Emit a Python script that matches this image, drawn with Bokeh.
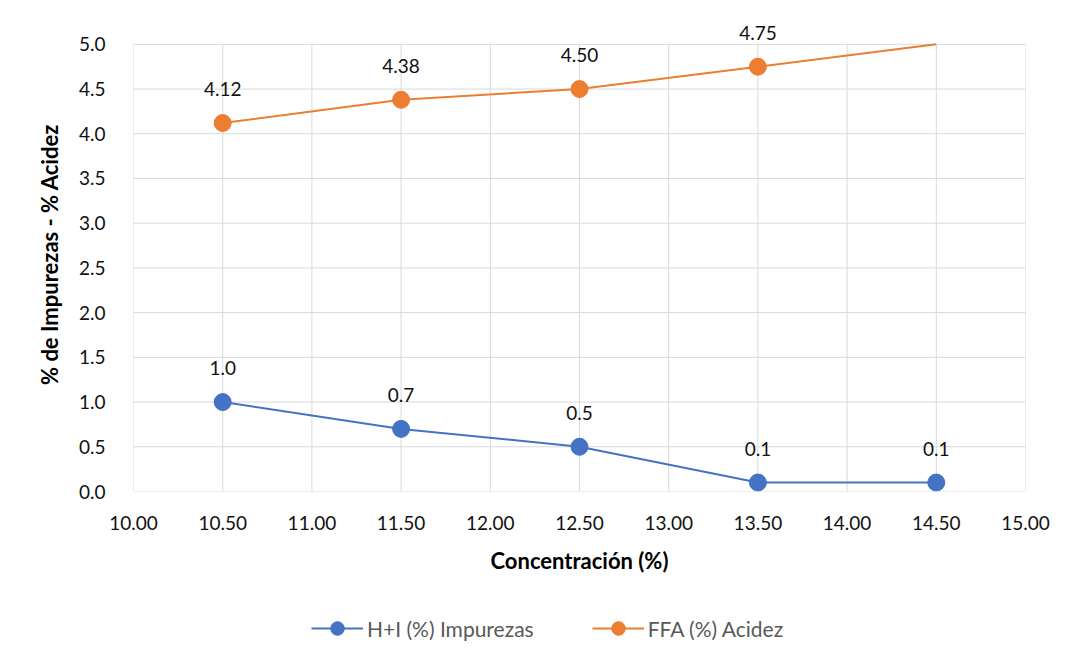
from bokeh.plotting import figure
from bokeh.layouts import column
from bokeh.models import (ColumnDataSource, LabelSet, Legend, LegendItem, FixedTicker,
                          NumeralTickFormatter, Range1d, CDSView, BooleanFilter)
from bokeh.core.properties import value
from bokeh.embed import file_html
from bokeh.resources import INLINE

conc_hi = [10.5, 11.5, 12.5, 13.5, 14.5]
hi_vals = [1.0, 0.7, 0.5, 0.1, 0.1]
hi_labels = ["1.0", "0.7", "0.5", "0.1", "0.1"]
ffa_vals = [4.12, 4.38, 4.50, 4.75, 5.00]
ffa_labels = ["4.12", "4.38", "4.50", "4.75", "5.00"]
series_names = ["H+I (%) Impurezas", "FFA (%) Acidez"]
x_ticks = [10.0, 10.5, 11.0, 11.5, 12.0, 12.5, 13.0, 13.5, 14.0, 14.5, 15.0]
y_ticks = [0.0, 0.5, 1.0, 1.5, 2.0, 2.5, 3.0, 3.5, 4.0, 4.5, 5.0]
x_min, x_max = 10.0, 15.0
y_min, y_max = 0.0, 5.0
y_view_max = 5.3   # extra headroom above the plot area for data labels

BLUE = "#4472C4"
ORANGE = "#ED7D31"
GRID = "#d9d9d9"
FONT = "Lato"

px_per_unit = 447 / (y_max - y_min)
p = figure(frame_width=892, frame_height=int(round(px_per_unit * (y_view_max - y_min))),
           output_backend="svg", toolbar_location=None,
           x_range=Range1d(x_min, x_max), y_range=Range1d(y_min, y_view_max),
           min_border_left=133, min_border_right=30, min_border_top=17, min_border_bottom=100)
p.outline_line_color = None
p.background_fill_color = "white"
p.border_fill_color = "white"
p.xgrid.visible = False
p.ygrid.visible = False

# plot-area grid (bounded to the axis range 0..5)
p.segment(x0=x_ticks, x1=x_ticks, y0=[y_min] * len(x_ticks), y1=[y_max] * len(x_ticks),
          line_color=GRID, line_width=1)
p.segment(x0=[x_min] * len(y_ticks), x1=[x_max] * len(y_ticks), y0=y_ticks, y1=y_ticks,
          line_color=GRID, line_width=1)

for ax in (p.xaxis[0], p.yaxis[0]):
    ax.axis_line_color = None
    ax.major_tick_line_color = None
    ax.minor_tick_line_color = None
    ax.major_label_text_font = FONT
    ax.major_label_text_font_size = "19px"
    ax.major_label_text_color = "#111111"
    ax.axis_label_text_font = FONT
    ax.axis_label_text_font_size = "22px"
    ax.axis_label_text_font_style = "bold"
    ax.axis_label_text_color = "#000000"

p.xaxis.ticker = FixedTicker(ticks=x_ticks)
p.xaxis.formatter = NumeralTickFormatter(format="0.00")
p.yaxis.ticker = FixedTicker(ticks=y_ticks)
p.yaxis.formatter = NumeralTickFormatter(format="0.0")
p.xaxis.axis_label = "Concentración (%)"
p.yaxis.axis_label = "% de Impurezas - % Acidez"
p.yaxis.bounds = (y_min, y_max)
p.xaxis.major_label_standoff = 18
p.xaxis.axis_label_standoff = 14
p.yaxis.major_label_standoff = 22
p.yaxis.axis_label_standoff = 13

src_hi = ColumnDataSource(dict(x=conc_hi, y=hi_vals, t=hi_labels))
src_ffa = ColumnDataSource(dict(x=conc_hi, y=ffa_vals, t=ffa_labels))

hi_line = p.line("x", "y", source=src_hi, line_color=BLUE, line_width=2)
hi_pts = p.scatter("x", "y", source=src_hi, size=17, fill_color=BLUE, line_color=BLUE)
ffa_line = p.line("x", "y", source=src_ffa, line_color=ORANGE, line_width=2)
vis = [v < y_max for v in ffa_vals]
ffa_view = CDSView(filter=BooleanFilter(vis))
ffa_pts = p.scatter("x", "y", source=src_ffa, view=ffa_view, size=17, fill_color=ORANGE, line_color=ORANGE)

src_ffa_lab = ColumnDataSource(dict(x=[x for x, k in zip(conc_hi, vis) if k],
                                    y=[y for y, k in zip(ffa_vals, vis) if k],
                                    t=[t for t, k in zip(ffa_labels, vis) if k]))

for s in (src_hi, src_ffa_lab):
    lab = LabelSet(x="x", y="y", text="t", source=s, y_offset=34, text_align="center",
                   text_baseline="middle", text_font=value(FONT), text_font_size="19px",
                   text_color="#111111")
    p.add_layout(lab)

# legend strip below the chart; the series are drawn outside its ranges, so only the legend shows
lf = figure(width=1050, height=60, output_backend="svg", toolbar_location=None,
            x_range=Range1d(0, 1), y_range=Range1d(0, 1), x_axis_type=None, y_axis_type=None,
            min_border=0)
lf.outline_line_color = None
lf.xgrid.visible = False
lf.ygrid.visible = False
l1 = lf.line(x=conc_hi, y=hi_vals, line_color=BLUE, line_width=2)
m1 = lf.scatter(x=conc_hi, y=hi_vals, size=15, fill_color=BLUE, line_color=BLUE)
l2 = lf.line(x=conc_hi, y=ffa_vals, line_color=ORANGE, line_width=2)
m2 = lf.scatter(x=conc_hi, y=ffa_vals, size=15, fill_color=ORANGE, line_color=ORANGE)
legend = Legend(items=[LegendItem(label=series_names[0], renderers=[l1, m1]),
                       LegendItem(label=series_names[1], renderers=[l2, m2])],
                orientation="horizontal", location=(178, 6))
legend.label_text_font = FONT
legend.label_text_font_size = "21px"
legend.label_text_color = "#595959"
legend.border_line_color = None
legend.background_fill_alpha = 0
legend.glyph_width = 52
legend.glyph_height = 34
legend.spacing = 58
legend.padding = 5
legend.margin = 0
legend.label_standoff = 4
lf.add_layout(legend, "center")

layout = column(p, lf, spacing=0)
open("out.html", "w").write(file_html(layout, INLINE))
